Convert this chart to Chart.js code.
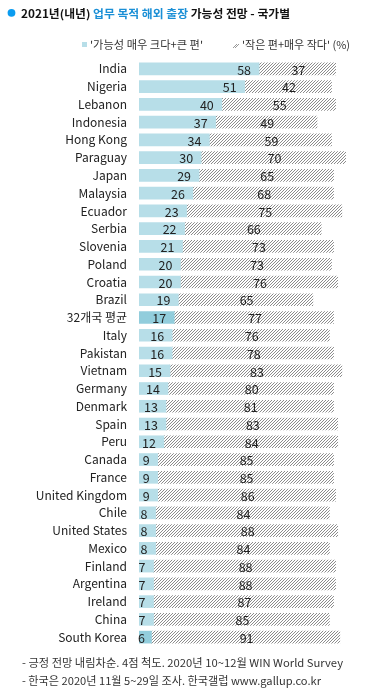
<!DOCTYPE html>
<html>
<head>
<meta charset="utf-8">
<script src="https://cdn.jsdelivr.net/npm/chart.js@4.4.1/dist/chart.umd.min.js"></script>
<style>
  html, body { margin: 0; padding: 0; background: #fff; }
  #wrap { width: 367px; height: 693px; position: relative; }
</style>
</head>
<body>
<div id="wrap"><canvas id="chart" width="367" height="693"></canvas></div>
<script>
// 데이터
const countries = ['India', 'Nigeria', 'Lebanon', 'Indonesia', 'Hong Kong', 'Paraguay', 'Japan', 'Malaysia',
    'Ecuador', 'Serbia', 'Slovenia', 'Poland', 'Croatia', 'Brazil', '32개국 평균', 'Italy', 'Pakistan',
    'Vietnam', 'Germany', 'Denmark', 'Spain', 'Peru', 'Canada', 'France', 'United Kingdom', 'Chile',
    'United States', 'Mexico', 'Finland', 'Argentina', 'Ireland', 'China', 'South Korea'];
const likely = [58, 51, 40, 37, 34, 30, 29, 26, 23, 22, 21, 20, 20, 19, 17, 16, 16, 15, 14, 13, 13, 12,
    9, 9, 9, 8, 8, 8, 7, 7, 7, 7, 6];
const unlikely = [37, 42, 55, 49, 59, 70, 65, 68, 75, 66, 73, 73, 76, 65, 77, 76, 78, 83, 80, 81, 83, 84,
    85, 85, 86, 84, 88, 84, 88, 88, 87, 85, 91];
const highlighted = ['32개국 평균', 'South Korea'];

const FONT = '"Noto Sans CJK KR", "Noto Sans", sans-serif';
const BLUE = '#b7dee8';
const BLUE_DARK = '#92cddc';

// 빗금 패턴
function makeHatch() {
    const c = document.createElement('canvas');
    c.width = 3; c.height = 3;
    const g = c.getContext('2d');
    g.fillStyle = '#8c8c8c';
    g.fillRect(2, 0, 1, 1);
    g.fillRect(1, 1, 1, 1);
    g.fillRect(0, 2, 1, 1);
    return g.createPattern(c, 'repeat');
}

const ctx = document.getElementById('chart').getContext('2d');
const hatch = makeHatch();

// 폭에 맞춰 글자 그리기 (여러 색 구간)
function drawFit(c, parts, x, y, w, font) {
    c.font = font;
    const total = parts.reduce((s, p) => s + c.measureText(p.t).width, 0);
    const k = w / total;
    c.save();
    c.translate(x, y);
    c.scale(k, 1);
    c.textBaseline = 'middle';
    c.textAlign = 'left';
    let cx = 0;
    parts.forEach(p => {
        c.fillStyle = p.c;
        c.fillText(p.t, cx, 0);
        cx += c.measureText(p.t).width;
    });
    c.restore();
}

const decor = {
    id: 'decor',
    afterDatasetsDraw(chart) {
        const c = chart.ctx;
        // 막대 값 라벨
        c.save();
        c.font = '12.5px ' + FONT;
        c.fillStyle = '#222';
        c.textBaseline = 'middle';
        const m0 = chart.getDatasetMeta(0), m1 = chart.getDatasetMeta(1);
        m0.data.forEach((bar, i) => {
            c.textAlign = 'right';
            const w = c.measureText(String(likely[i])).width;
            const xr = Math.max(bar.x - 8, bar.base - 1 + w);
            c.fillText(likely[i], xr, bar.y + 1);
        });
        m1.data.forEach((bar, i) => {
            c.textAlign = 'center';
            c.fillText(unlikely[i], (bar.x + bar.base) / 2 + 1, bar.y + 1);
        });
        c.restore();
    },
    afterDraw(chart) {
        const c = chart.ctx;
        // 제목
        c.save();
        c.fillStyle = '#0b9cf0';
        c.beginPath();
        c.arc(11.5, 12.8, 3.9, 0, Math.PI * 2);
        c.fill();
        c.restore();
        drawFit(c, [
            { t: '2021년(내년) ', c: '#111' },
            { t: '업무 목적 해외 출장', c: '#1a8fd6' },
            { t: ' 가능성 전망 - 국가별', c: '#111' }
        ], 21, 14, 269, 'bold 11px ' + FONT);

        // 범례
        c.fillStyle = BLUE;
        c.fillRect(82, 42, 5, 5);
        drawFit(c, [{ t: "'가능성 매우 크다+큰 편'", c: '#333' }], 90, 45, 113, '11px ' + FONT);
        c.save();
        c.strokeStyle = '#999';
        c.lineWidth = 1;
        c.beginPath();
        c.moveTo(233, 48); c.lineTo(237, 44);
        c.moveTo(235, 48); c.lineTo(239, 44);
        c.stroke();
        c.restore();
        drawFit(c, [{ t: "'작은 편+매우 작다' (%)", c: '#333' }], 242, 45, 108, '11px ' + FONT);

        // 각주
        drawFit(c, [{ t: '- 긍정 전망 내림차순. 4점 척도. 2020년 10~12월 WIN World Survey', c: '#333' }],
            22, 663, 321, '11px ' + FONT);
        drawFit(c, [{ t: '- 한국은 2020년 11월 5~29일 조사. 한국갤럽 www.gallup.co.kr', c: '#333' }],
            22, 681, 299, '11px ' + FONT);
    }
};

new Chart(ctx, {
    type: 'bar',
    data: {
        labels: countries,
        datasets: [
            {
                label: "'가능성 매우 크다+큰 편'",
                data: likely,
                backgroundColor: countries.map(n => highlighted.includes(n) ? BLUE_DARK : BLUE),
                barThickness: 12
            },
            {
                label: "'작은 편+매우 작다'",
                data: unlikely,
                backgroundColor: hatch,
                barThickness: 12
            }
        ]
    },
    options: {
        indexAxis: 'y',
        responsive: false,
        animation: false,
        layout: { padding: { top: 60, bottom: 47, right: 21, left: 0 } },
        plugins: {
            legend: { display: false },
            title: { display: false },
            tooltip: { enabled: false }
        },
        scales: {
            x: {
                stacked: true,
                display: false,
                min: 0,
                max: 100
            },
            y: {
                stacked: true,
                grid: { display: false, drawTicks: false },
                border: { display: false },
                ticks: {
                    padding: 12,
                    color: '#222',
                    font: { family: FONT, size: 12 },
                    autoSkip: false
                },
                afterFit(scale) { scale.width = 139; }
            }
        }
    },
    plugins: [decor]
});
</script>
</body>
</html>
